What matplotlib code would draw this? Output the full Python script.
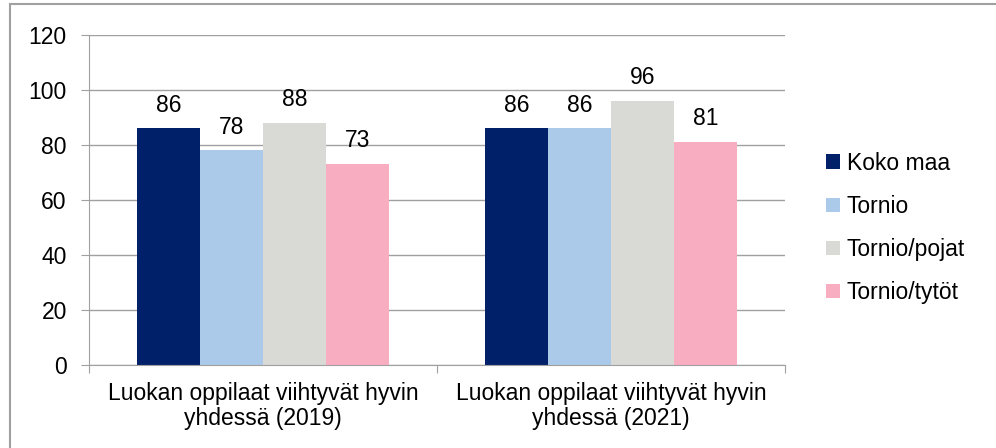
import matplotlib.pyplot as plt
import numpy as np
from matplotlib.lines import Line2D

plt.rcParams['font.family'] = ['Liberation Sans', 'DejaVu Sans']

# data
categories = ['Luokan oppilaat viihtyvät hyvin\nyhdessä (2019)',
              'Luokan oppilaat viihtyvät hyvin\nyhdessä (2021)']
series = ['Koko maa', 'Tornio', 'Tornio/pojat', 'Tornio/tytöt']
values = [
    [86, 86],
    [78, 86],
    [88, 96],
    [73, 81],
]
colors = ['#002169', '#abc9e8', '#d9d9d6', '#f9adc0']

fs = 16.5
fig = plt.figure(figsize=(9.96, 4.48), dpi=100)
ax = fig.add_axes([89/996, 83/448, (785-89)/996, (365-35)/448])

x = np.arange(len(categories))
bw = 0.181
for i, (name, vals) in enumerate(zip(series, values)):
    pos = x + (i - 1.5) * bw
    bars = ax.bar(pos, vals, width=bw, color=colors[i], label=name, zorder=2)
    for b, v in zip(bars, vals):
        ax.annotate(str(v), (b.get_x() + b.get_width() / 2, v),
                    xytext=(0, 8.5), textcoords='offset points',
                    ha='center', va='bottom', fontsize=fs)

ax.set_xlim(-0.5, 1.5)
ax.set_ylim(0, 120)
ax.set_yticks(range(0, 121, 20))
ax.yaxis.grid(True, color='#a0a0a0', linewidth=1, zorder=0)
ax.set_axisbelow(True)

# category boundary ticks on x
ax.set_xticks([-0.5, 0.5, 1.5])
ax.set_xticklabels([])
for xi, lab in zip(x, categories):
    ax.text(xi, -6, lab, ha='center', va='top', fontsize=fs,
            linespacing=1.12)

for s in ['top', 'right']:
    ax.spines[s].set_visible(False)
for s in ['left', 'bottom']:
    ax.spines[s].set_color('#a0a0a0')
ax.tick_params(axis='both', colors='#a0a0a0', length=6, labelsize=fs,
               labelcolor='black')
ax.tick_params(axis='y', pad=10)

ax.legend(loc='center left', bbox_to_anchor=(1.059, 0.415), frameon=False,
          fontsize=fs, handlelength=0.6, handleheight=0.6, borderpad=0,
          borderaxespad=0, labelspacing=0.88, handletextpad=0.3)

# outer chart border (top and left)
fig.add_artist(Line2D([10/996, 10/996], [0, 1 - 4/448], color='#a0a0a0',
                      linewidth=1.5, transform=fig.transFigure))
fig.add_artist(Line2D([10/996, 1], [1 - 4/448, 1 - 4/448], color='#a0a0a0',
                      linewidth=1.5, transform=fig.transFigure))

fig.savefig('out.png', dpi=100)
